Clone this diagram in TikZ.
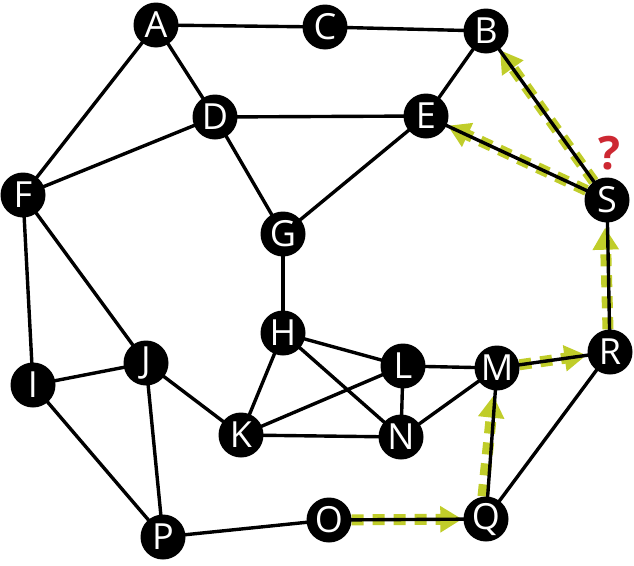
\documentclass[tikz,border=0pt]{standalone}
\usepackage{fontspec}
\setmainfont{Open Sans}
\usetikzlibrary{arrows.meta}
\definecolor{pathgreen}{RGB}{192,205,42}
\definecolor{qred}{RGB}{205,40,50}
\tikzset{
  vertex/.style={circle, fill=black, draw=none, minimum size=45pt, inner sep=0pt,
    text=white, font=\fontsize{36}{36}\selectfont},
  edge/.style={draw=black, line width=3.4pt},
  walk/.style={draw=pathgreen, line width=11pt, dash pattern=on 12pt off 9pt,
    -{Triangle[length=22pt,width=25pt]}, shorten >=1pt},
}
\begin{document}
\begin{tikzpicture}[x=1pt,y=-1pt]
\useasboundingbox (0,0) rectangle (634,565);
\coordinate (pA) at (156,25);
\coordinate (pC) at (325,27);
\coordinate (pB) at (486,31);
\coordinate (pD) at (215,117);
\coordinate (pE) at (426,116);
\coordinate (pF) at (23,195);
\coordinate (pS) at (607,200);
\coordinate (pG) at (283,234);
\coordinate (pH) at (283,333);
\coordinate (pJ) at (146,363);
\coordinate (pI) at (33,385);
\coordinate (pL) at (403,366);
\coordinate (pM) at (497,368);
\coordinate (pR) at (610,352);
\coordinate (pK) at (241,435);
\coordinate (pN) at (401,437);
\coordinate (pP) at (163,537);
\coordinate (pO) at (329,520);
\coordinate (pQ) at (486,519);
\foreach \n in {A,B,C,D,E,F,G,H,I,J,K,L,M,N,O,P,Q,R,S}{
  \node[vertex, fill=none, text opacity=0] (\n) at (p\n) {\n};
}
\draw[walk] (O) -- (Q);
\draw[walk, shorten >=5pt] ([xshift=-3pt]Q.north) -- ([xshift=-3pt]M.south);
\draw[walk] ([yshift=1pt]M) -- ([yshift=1pt]R);
\draw[walk, shorten >=5pt] ([xshift=-2pt]R.north) -- ([xshift=-2pt]S.south);
\draw[walk] ([yshift=3pt]S) -- ([yshift=3pt]E);
\draw[walk] ([xshift=3pt]S) -- ([xshift=3pt]B);
\foreach \a/\b in {A/C, C/B, A/D, A/F, D/E, D/F, D/G, B/E, E/G, E/S, B/S,
  F/I, F/J, G/H, H/K, H/L, H/N, J/I, J/K, J/P, I/P, K/L, K/N, L/N, L/M,
  M/N, M/R, M/Q, R/Q, R/S, P/O, O/Q}{
  \draw[edge] (p\a) -- (p\b);
}
\foreach \n in {A,B,C,D,E,F,G,H,I,J,K,L,M,N,O,P,Q,R,S}{
  \node[vertex] (v\n) at (p\n) {\n};
}
\node[text=qred, font=\fontsize{46}{46}\selectfont\bfseries] (qm) at (609,153) {?};
\end{tikzpicture}
\end{document}
